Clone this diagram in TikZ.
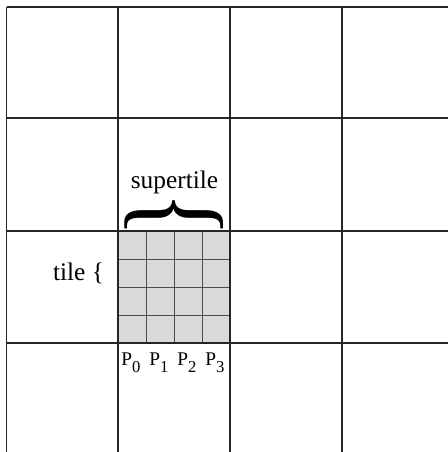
\documentclass[tikz,border=0pt]{standalone}
\usepackage{fontspec}
\setmainfont{Liberation Serif}
\newfontfamily\labelfont{Liberation Serif}
\usetikzlibrary{positioning}

\begin{document}
\begin{tikzpicture}[
  x=0.75pt, y=-0.75pt,
  every node/.style={inner sep=0pt, outer sep=0pt},
  gridline/.style={draw=black!85, line width=0.8pt},
  cellline/.style={draw=black!70, line width=0.6pt},
  cellfill/.style={fill=black!15},
  bigtext/.style={font=\labelfont\fontsize{19pt}{21pt}\selectfont},
  ptext/.style={font=\labelfont\fontsize{14.5pt}{16pt}\selectfont},
]
\useasboundingbox (0,0) rectangle (448,452);

%% Supertile shading
\fill[cellfill] (118,231) rectangle (230,343);

%% Supertile cells
\foreach \i in {1,2,3} {
  \draw[cellline] (118+28*\i,231) -- (118+28*\i,343);
  \draw[cellline] (118,231+28*\i) -- (230,231+28*\i);
}

%% Tile grid
\foreach \x in {6.5,118,230,342}
  \draw[gridline] (\x,7) -- (\x,452);
\foreach \y in {7,118,231,343}
  \draw[gridline] (6.5,\y) -- (448,\y);

%% Labels
\node[bigtext, anchor=base] (supertile) at (174.5,188) {supertile};
\node[font=\labelfont] (brace) at (174,215) {\resizebox{74pt}{34pt}{\rotatebox{90}{\}}}};
\node[bigtext, anchor=base] (tile) at (78.5,280) {tile \{};

%% Processor labels
\foreach \n in {0,...,3}
  \node[ptext, anchor=base] (p\n) at (131+28*\n,365) {P\raisebox{-0.4em}{\fontsize{12.5pt}{13pt}\selectfont\n}};

\end{tikzpicture}
\end{document}
